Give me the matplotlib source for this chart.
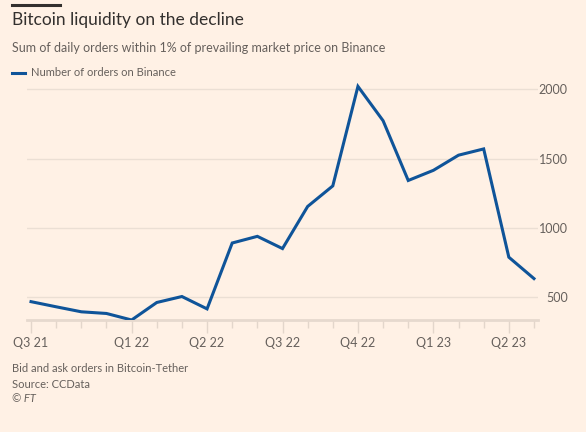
import matplotlib
matplotlib.use("Agg")
import matplotlib.pyplot as plt
from matplotlib.lines import Line2D

plt.rcParams['font.family'] = ['Lato', 'DejaVu Sans']

# Sum of daily orders within 1% of market price on Binance
orders = [470, 433, 397, 385, 338, 464, 507, 418, 892, 940, 852,
          1155, 1303, 2019, 1772, 1342, 1415, 1524, 1569, 790, 636]
tick_labels = {0: 'Q3 21', 4: 'Q1 22', 7: 'Q2 22', 10: 'Q3 22',
               13: 'Q4 22', 16: 'Q1 23', 19: 'Q2 23'}
y_ticks = [500, 1000, 1500, 2000]

bg = '#FFF1E5'
line_col = '#0F5499'
grid_col = '#EBDFD4'
text_col = '#66605C'

fig = plt.figure(figsize=(5.86, 4.32), dpi=100, facecolor=bg)
ax = fig.add_axes([27 / 586, 1 - 320 / 432, (538 - 27) / 586, (320 - 80) / 432])
ax.set_facecolor(bg)

x = list(range(len(orders)))
ax.plot(x, orders, color=line_col, lw=2.2, solid_joinstyle='miter', zorder=3)

ax.set_xlim(-0.16, len(orders) - 1 + 0.16)
ax.set_ylim(338, 2065)

# y axis on the right, labels right-aligned
ax.yaxis.tick_right()
ax.set_yticks(y_ticks)
ax.set_yticklabels([str(v) for v in y_ticks])
ax.tick_params(axis='y', length=0, pad=21.5, labelsize=9, labelcolor=text_col)
for lbl in ax.get_yticklabels():
    lbl.set_horizontalalignment('right')
ax.grid(axis='y', color=grid_col, lw=1)

# x axis: tick at every point, labels on quarters
ax.set_xticks(x, minor=True)
ax.set_xticks(list(tick_labels.keys()))
ax.set_xticklabels(list(tick_labels.values()))
ax.tick_params(axis='x', which='major', length=9, color='#E3D6CB', width=1,
               labelsize=9, labelcolor=text_col, pad=3)
ax.tick_params(axis='x', which='minor', length=6, color='#E3D6CB', width=1)

for s in ['top', 'right', 'left']:
    ax.spines[s].set_visible(False)
ax.spines['bottom'].set_color('#E6D9CE')
ax.spines['bottom'].set_linewidth(2)

# header
fig.add_artist(Line2D([12 / 586, 60 / 586], [1 - 5 / 432, 1 - 5 / 432],
                      color='#33302E', lw=2.2))
fig.text(12 / 586, 1 - 20 / 432, 'Bitcoin liquidity on the decline',
         fontsize=12.5, color='#33302E', va='center', ha='left')
fig.text(12 / 586, 1 - 48 / 432,
         'Sum of daily orders within 1% of prevailing market price on Binance',
         fontsize=9.0, color=text_col, va='center', ha='left')
fig.add_artist(Line2D([12 / 586, 25 / 586], [1 - 72.5 / 432, 1 - 72.5 / 432],
                      color=line_col, lw=2.2))
fig.text(31 / 586, 1 - 72.5 / 432, 'Number of orders on Binance',
         fontsize=8.0, color=text_col, va='center', ha='left')

# footer
fig.text(12 / 586, 1 - 369 / 432, 'Bid and ask orders in Bitcoin-Tether',
         fontsize=8.0, color=text_col, va='center', ha='left')
fig.text(12 / 586, 1 - 384 / 432, 'Source: CCData',
         fontsize=8.0, color=text_col, va='center', ha='left')
fig.text(12 / 586, 1 - 399 / 432, '© FT', fontsize=8.0, color=text_col,
         va='center', ha='left', style='italic')

fig.savefig('out.png', dpi=100, facecolor=bg)
